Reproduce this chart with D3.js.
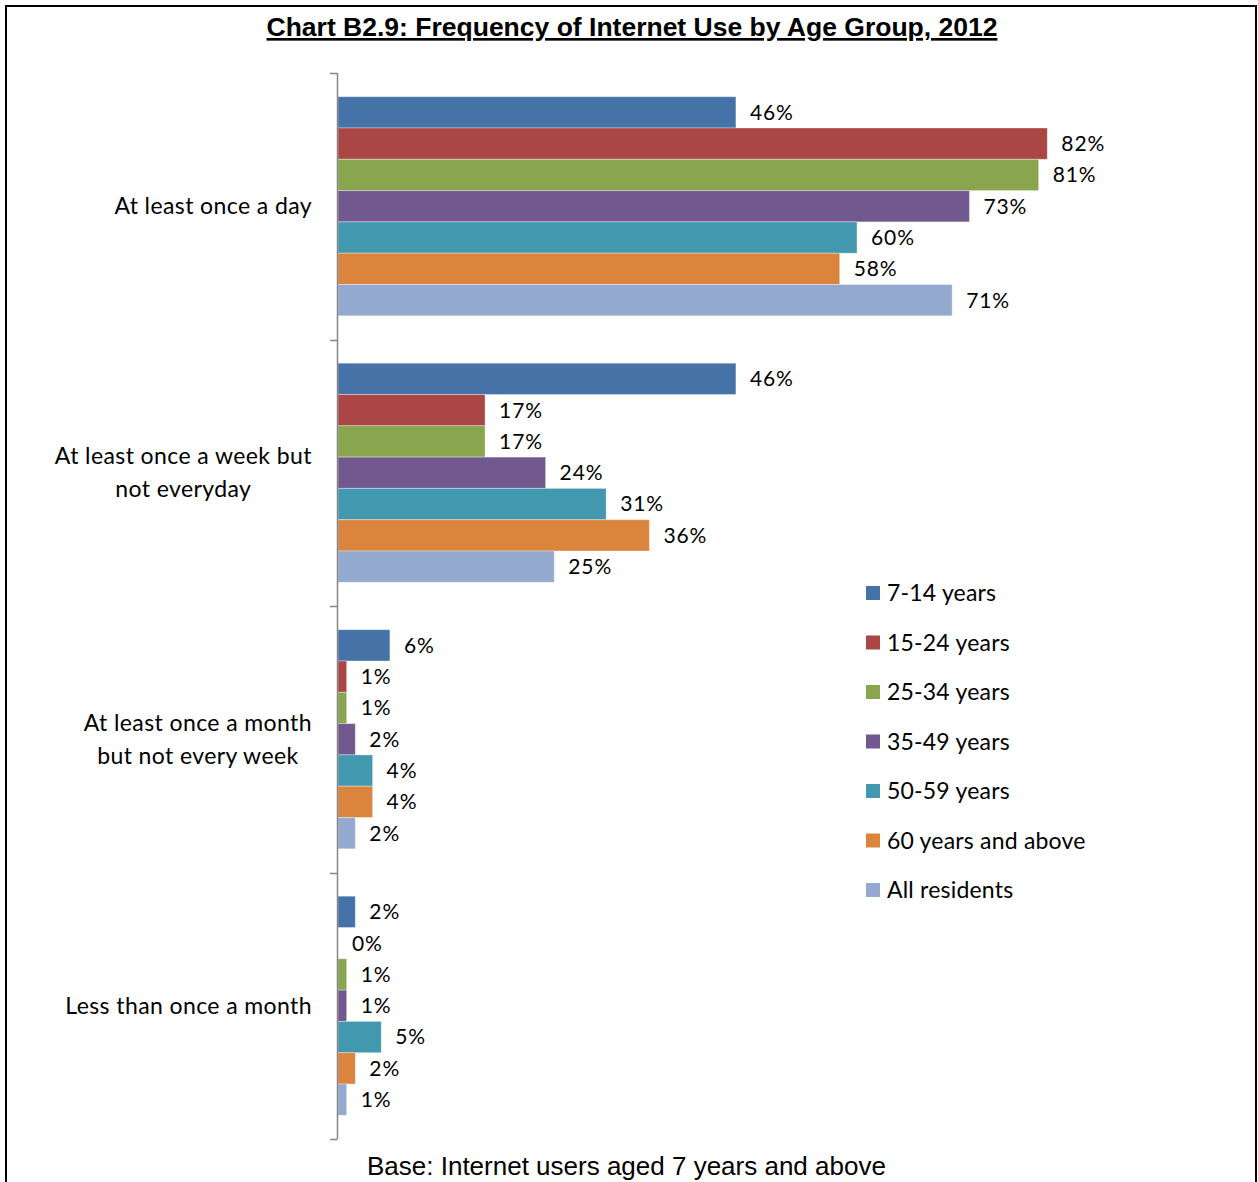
<!DOCTYPE html>
<html>
<head>
<meta charset="utf-8">
<script src="https://cdn.jsdelivr.net/npm/d3@7"></script>
<style>
  html, body { margin: 0; padding: 0; background: #fff; }
  svg { display: block; }
</style>
</head>
<body>
<svg id="chart" width="1258" height="1182"></svg>
<script>
// Frequency categories (top to bottom); "\n" splits a label into lines
const categories = [
  "At least once a day",
  "At least once a week but\nnot everyday",
  "At least once a month\nbut not every week",
  "Less than once a month"
];

// Age groups, in bar order within each category
const seriesNames = [
  "7-14 years", "15-24 years", "25-34 years", "35-49 years",
  "50-59 years", "60 years and above", "All residents"
];

// Percentages per age group, one value per category
const age7to14   = [46, 46, 6, 2];
const age15to24  = [82, 17, 1, 0];
const age25to34  = [81, 17, 1, 1];
const age35to49  = [73, 24, 2, 1];
const age50to59  = [60, 31, 4, 5];
const age60plus  = [58, 36, 4, 2];
const allResidents = [71, 25, 2, 1];

const seriesValues = [age7to14, age15to24, age25to34, age35to49, age50to59, age60plus, allResidents];
const seriesColors = ["#4572A7", "#AA4643", "#89A54E", "#71588F", "#4198AF", "#DB843D", "#93A9CF"];

const titleText = "Chart B2.9: Frequency of Internet Use by Age Group, 2012";
const baseText = "Base: Internet users aged 7 years and above";

const svg = d3.select("#chart");
const labelFont = "Lato, 'Open Sans', sans-serif";

// Outer frame
svg.append("rect")
  .attr("x", 6).attr("y", 6)
  .attr("width", 1250).attr("height", 1200)
  .attr("fill", "none").attr("stroke", "#000").attr("stroke-width", 2);

// Title
svg.append("text")
  .attr("x", 632).attr("y", 36)
  .attr("text-anchor", "middle")
  .attr("font-family", "'Liberation Sans', Arial, sans-serif")
  .attr("font-weight", "bold")
  .attr("font-size", 26.5)
  .attr("text-decoration", "underline")
  .text(titleText);

// Scales
const x = d3.scaleLinear().domain([0, 100]).range([338, 1203]);
const y = d3.scaleBand().domain(categories).range([73, 1139]).padding(0);
const yInner = d3.scaleBand().domain(seriesNames)
  .range([23.7, y.bandwidth() - 23.7]).padding(0);

// Bars and value labels
const rows = [];
categories.forEach((c, ci) => {
  seriesNames.forEach((s, si) => {
    rows.push({ cat: c, series: s, value: seriesValues[si][ci], color: seriesColors[si] });
  });
});

const bars = svg.append("g");
bars.selectAll("rect").data(rows).join("rect")
  .attr("x", x(0))
  .attr("y", d => y(d.cat) + yInner(d.series))
  .attr("width", d => x(d.value) - x(0))
  .attr("height", yInner.bandwidth())
  .attr("fill", d => d.color)
  .attr("stroke", "rgba(255,255,255,0.35)")
  .attr("stroke-width", 1);

bars.selectAll("text").data(rows).join("text")
  .attr("x", d => x(d.value) + 14)
  .attr("y", d => y(d.cat) + yInner(d.series) + yInner.bandwidth() / 2)
  .attr("dy", "0.35em")
  .attr("font-family", labelFont)
  .attr("font-size", 21)
  .attr("letter-spacing", 0.9)
  .attr("fill", "#000")
  .text(d => d.value + "%");

// Category axis (line with ticks at band edges, no tick labels)
const axis = svg.append("g");
axis.append("line")
  .attr("x1", 337.5).attr("x2", 337.5)
  .attr("y1", 73).attr("y2", 1139)
  .attr("stroke", "#868686").attr("stroke-width", 1.5);
const edges = categories.map(c => y(c)).concat([y.range()[1]]);
axis.selectAll("line.tick").data(edges).join("line")
  .attr("class", "tick")
  .attr("x1", 330).attr("x2", 337.5)
  .attr("y1", d => Math.round(d) + 0.5).attr("y2", d => Math.round(d) + 0.5)
  .attr("stroke", "#868686").attr("stroke-width", 1.5);

// Category labels: block right-aligned, lines centered within the block
const lineH = 33;
categories.forEach(c => {
  const lines = c.split("\n");
  const g = svg.append("g");
  const cy = y(c) + y.bandwidth() / 2;
  const texts = lines.map((ln, i) => g.append("text")
    .attr("y", cy + (i - (lines.length - 1) / 2) * lineH)
    .attr("dy", "0.35em")
    .attr("text-anchor", "middle")
    .attr("font-family", labelFont)
    .attr("font-size", 23)
    .attr("letter-spacing", 0.4)
    .attr("fill", "#000")
    .text(ln));
  const maxW = d3.max(texts, t => t.node().getBBox().width);
  texts.forEach(t => t.attr("x", 312 - maxW / 2));
});

// Legend
const legend = svg.append("g");
seriesNames.forEach((s, i) => {
  const ly = 593 + i * 49.5;
  legend.append("rect")
    .attr("x", 866).attr("y", ly - 7)
    .attr("width", 14).attr("height", 14)
    .attr("fill", seriesColors[i]);
  legend.append("text")
    .attr("x", 887).attr("y", ly)
    .attr("dy", "0.35em")
    .attr("font-family", labelFont)
    .attr("font-size", 23)
    .attr("letter-spacing", 0.2)
    .attr("fill", "#000")
    .text(s);
});

// Base note
svg.append("text")
  .attr("x", 367).attr("y", 1175)
  .attr("font-family", "'Liberation Sans', Arial, sans-serif")
  .attr("font-size", 26)
  .attr("fill", "#000")
  .text(baseText);
</script>
</body>
</html>
